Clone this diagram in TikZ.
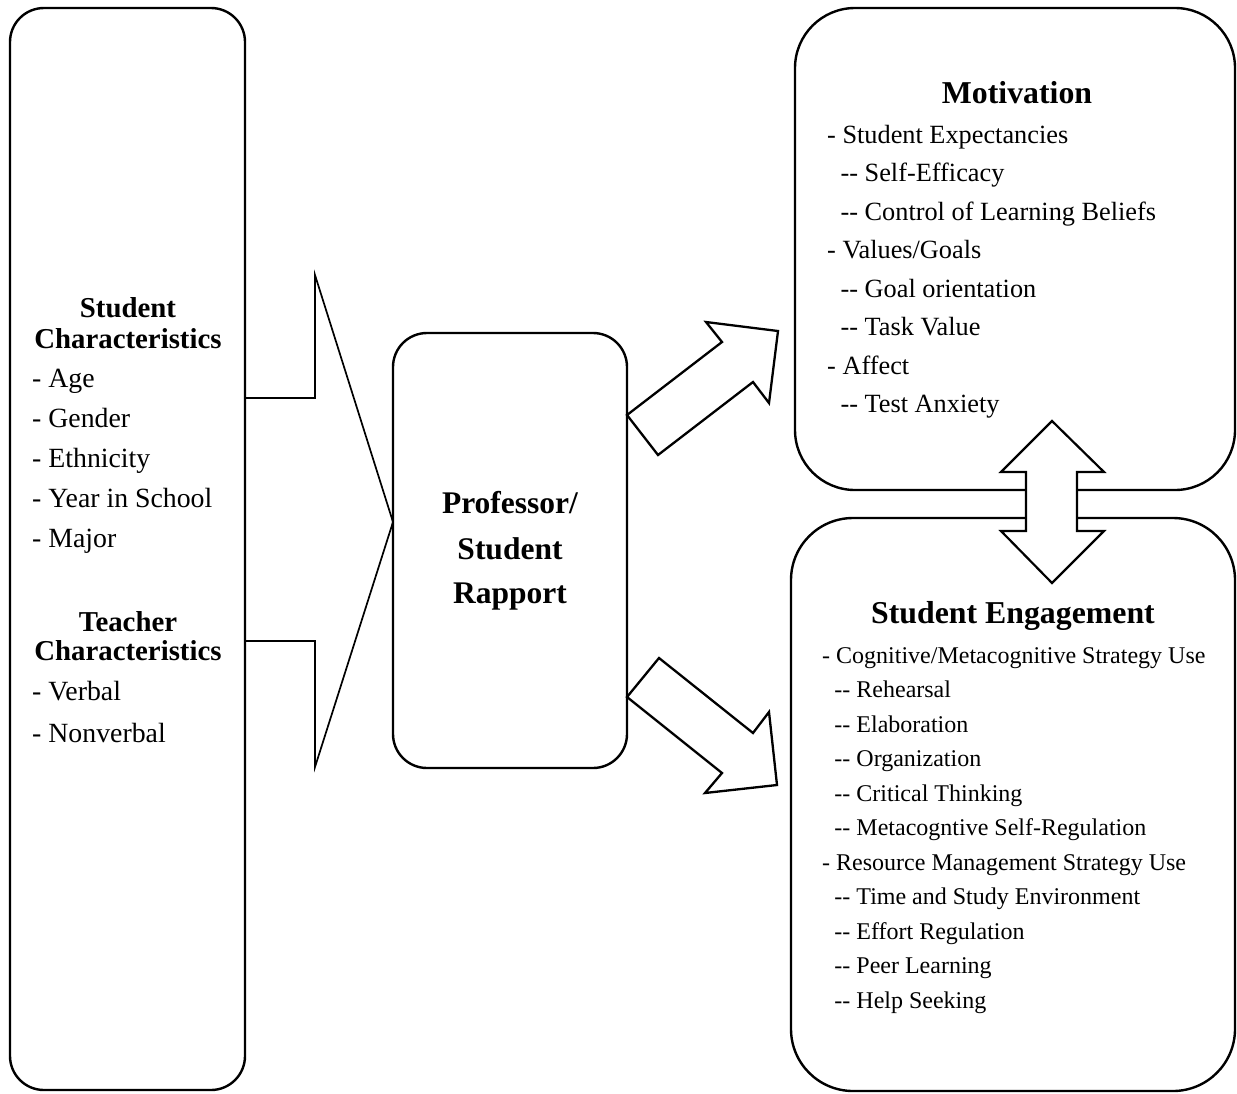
\documentclass[tikz,border=0pt]{standalone}
\usepackage{fontspec}
\setmainfont{Liberation Serif}
% two separate hyphens (no en-dash ligature)
\newcommand\dd{-\kern0pt-}
% indented second-level entry
\newcommand\sublvl{\hspace*{0.51em}\dd\ }
\pgfdeclarelayer{under}
\pgfsetlayers{under,main}
\begin{document}
\begin{tikzpicture}[x=1pt,y=-1pt,
  box/.style={draw, line width=2.4pt, rectangle, inner sep=0pt, outer sep=0pt},
  blockarrow/.style={draw, fill=white, line width=2.3pt, line join=miter},
  txt/.style={inner sep=0pt, anchor=base west},
  hd/.style={inner sep=0pt, anchor=base},
  lefttxt/.style={txt, font=\fontsize{27.8}{33}\selectfont},
  lefthead/.style={hd, font=\fontsize{28.8}{34}\selectfont\bfseries},
  midhead/.style={hd, font=\fontsize{31.5}{38}\selectfont\bfseries},
  righthead/.style={hd, font=\fontsize{31.8}{38}\selectfont\bfseries},
  mottxt/.style={txt, font=\fontsize{26.3}{31}\selectfont},
  engtxt/.style={txt, font=\fontsize{24}{29}\selectfont}]
\useasboundingbox (0,0) rectangle (1237,1093);

% boxes
\node[box, rounded corners=34pt, minimum width=235pt, minimum height=1082pt] (chars) at (127.5,549) {};
\node[box, rounded corners=34pt, minimum width=234pt, minimum height=435pt] (rapport) at (510,550.5) {};
\node[box, rounded corners=60pt, minimum width=440pt, minimum height=482pt] (motiv) at (1015,249) {};
\node[box, rounded corners=62pt, minimum width=444pt, minimum height=573pt] (engage) at (1013,804.5) {};

% block arrows
\begin{pgfonlayer}{under}
\draw[blockarrow, line width=1.7pt]
  (chars.east |- 0,398) -- (315,398) -- (315,275) -- (rapport.west |- 0,522)
  -- (315,767) -- (315,641) -- (chars.east |- 0,641);
\end{pgfonlayer}
\draw[blockarrow]
  (rapport.east |- 0,415) -- (658,455) -- (753,382) -- (769,403) -- (778,331)
  -- (706,322) -- (722,342) -- cycle;
\draw[blockarrow]
  (rapport.east |- 0,697) -- (659,658) -- (753,733) -- (769,712) -- (777,785)
  -- (705,793) -- (722,773) -- cycle;
\draw[blockarrow, line width=2.2pt]
  (1052,421) -- (1104,472) -- (1077,472) -- (1077,531) -- (1104,531) -- (1052,583)
  -- (1001,531) -- (1026,531) -- (1026,472) -- (1001,472) -- cycle;

% left box text
\node[lefthead] (sh1) at (128,317) {Student};
\node[lefthead] (sh2) at (128,348) {Characteristics};
\foreach \t [count=\i from 0] in {Age, Gender, Ethnicity, Year in School, Major}
  \node[lefttxt] (sc-\i) at (32,387+40*\i) {- \t};
\node[lefthead] (th1) at (128,631) {Teacher};
\node[lefthead] (th2) at (128,660) {Characteristics};
\node[lefttxt] (tc-0) at (32,700) {- Verbal};
\node[lefttxt] (tc-1) at (32,742) {- Nonverbal};

% centre box text
\node[midhead] (rp1) at (510,513) {Professor/};
\node[midhead] (rp2) at (510,559) {Student};
\node[midhead] (rp3) at (510,603) {Rapport};

% motivation
\node[righthead] (mh) at (1017,103) {Motivation};
\foreach \t [count=\i from 0] in {{- Student Expectancies}, {\sublvl Self-Efficacy},
    {\sublvl Control of Learning Beliefs}, {- Values/Goals}, {\sublvl Goal orientation},
    {\sublvl Task Value}, {- Affect}, {\sublvl Test Anxiety}}
  \node[mottxt] (mi-\i) at (827,143+38.5*\i) {\t};

% engagement
\node[righthead] (eh) at (1013,623) {Student Engagement};
\foreach \t [count=\i from 0] in {{- Cognitive/Metacognitive Strategy Use}, {\sublvl Rehearsal},
    {\sublvl Elaboration}, {\sublvl Organization}, {\sublvl Critical Thinking},
    {\sublvl Metacogntive Self-Regulation}, {- Resource Management Strategy Use},
    {\sublvl Time and Study Environment}, {\sublvl Effort Regulation},
    {\sublvl Peer Learning}, {\sublvl Help Seeking}}
  \node[engtxt] (ei-\i) at (822,663+34.5*\i) {\t};
\end{tikzpicture}
\end{document}
